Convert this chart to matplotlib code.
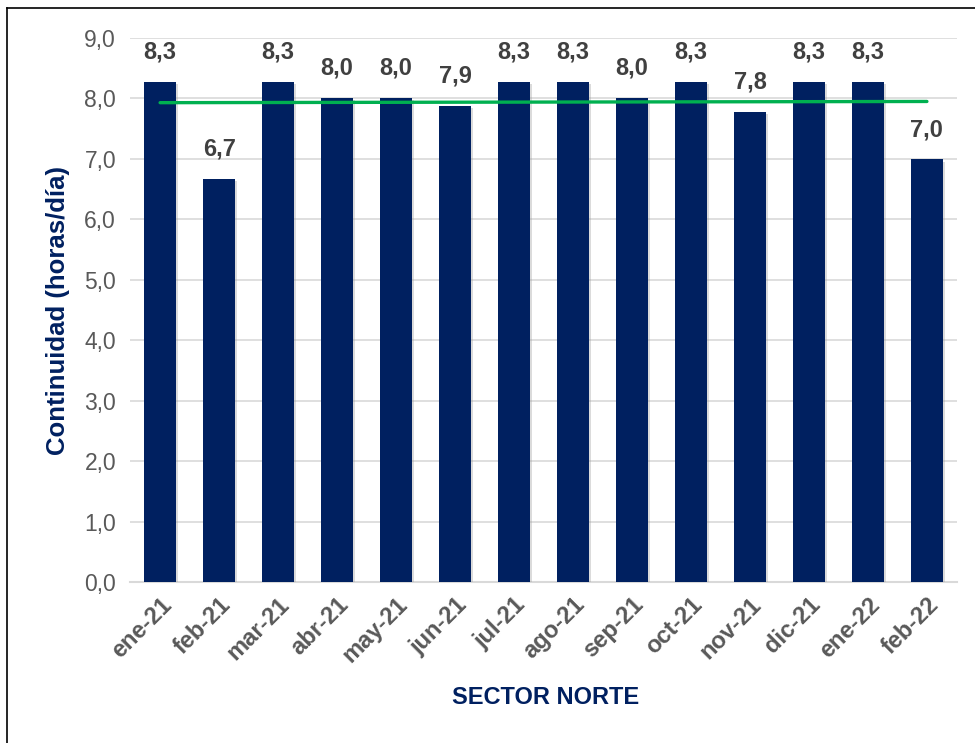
import numpy as np
import matplotlib.pyplot as plt
from matplotlib import patheffects as pe
from matplotlib.lines import Line2D

plt.rcParams["font.family"] = ["Liberation Sans", "DejaVu Sans"]

# =========================
# Data
# =========================
meses = ["ene-21", "feb-21", "mar-21", "abr-21", "may-21", "jun-21", "jul-21",
         "ago-21", "sep-21", "oct-21", "nov-21", "dic-21", "ene-22", "feb-22"]
continuidad = [8.28, 6.67, 8.28, 8.01, 8.01, 7.88, 8.28,
               8.28, 8.01, 8.28, 7.78, 8.28, 8.28, 6.99]
tendencia = [7.93, 7.95]   # inicio / fin de la linea verde

navy = "#002060"
gris = "#595959"

# =========================
# Plot
# =========================
fig = plt.figure(figsize=(9.75, 7.43), dpi=100)
ax = fig.add_axes([130 / 975, 1 - 582 / 743, 827 / 975, 544 / 743])

x = np.arange(len(meses))
bars = ax.bar(x, continuidad, width=0.54, color=navy, zorder=3)
for b in bars:
    b.set_path_effects([pe.SimplePatchShadow(offset=(1.5, -1.5), shadow_rgbFace="#999999", alpha=0.35),
                        pe.Normal()])

ax.plot([x[0], x[-1]], tendencia, color="#00b050", lw=2.4, zorder=4,
        solid_capstyle="round")

for xi, v in zip(x, continuidad):
    ax.text(xi, v + 0.3, f"{v:.1f}".replace(".", ","), ha="center", va="bottom",
            fontsize=17, fontweight="bold", color="#404040")

ax.set_xlim(-0.51, len(meses) - 0.49)
ax.set_ylim(0, 9)
ax.set_yticks(np.arange(0, 9.1, 1.0))
ax.set_yticklabels([f"{t:.1f}".replace(".", ",") for t in np.arange(0, 9.1, 1.0)],
                   fontsize=16.5, color=gris)
ax.set_xticks(x)
ax.set_xticklabels(meses, rotation=45, ha="right", rotation_mode="anchor",
                   fontsize=17, fontweight="bold", color=gris)
ax.tick_params(axis="both", length=0)
ax.tick_params(axis="y", pad=10)
ax.tick_params(axis="x", pad=8)

ax.grid(axis="y", color="#d9d9d9", lw=1.2, zorder=0)
for s in ["top", "right", "left"]:
    ax.spines[s].set_visible(False)
ax.spines["bottom"].set_color("#d9d9d9")
ax.spines["bottom"].set_linewidth(1.5)

ax.set_ylabel("Continuidad (horas/día)", fontsize=18.5, fontweight="bold", color=navy,
              labelpad=10)
fig.text(546 / 975, 1 - 698 / 743, "SECTOR NORTE", ha="center", va="center",
         fontsize=17, fontweight="bold", color=navy)

# borde de la figura (solo izquierda y arriba visibles)
fig.add_artist(Line2D([7 / 975, 7 / 975], [0, 1 - 8 / 743], color="black", lw=1.2,
                      transform=fig.transFigure))
fig.add_artist(Line2D([7 / 975, 1], [1 - 8 / 743, 1 - 8 / 743], color="black", lw=1.2,
                      transform=fig.transFigure))

fig.savefig("out.png", dpi=100)
